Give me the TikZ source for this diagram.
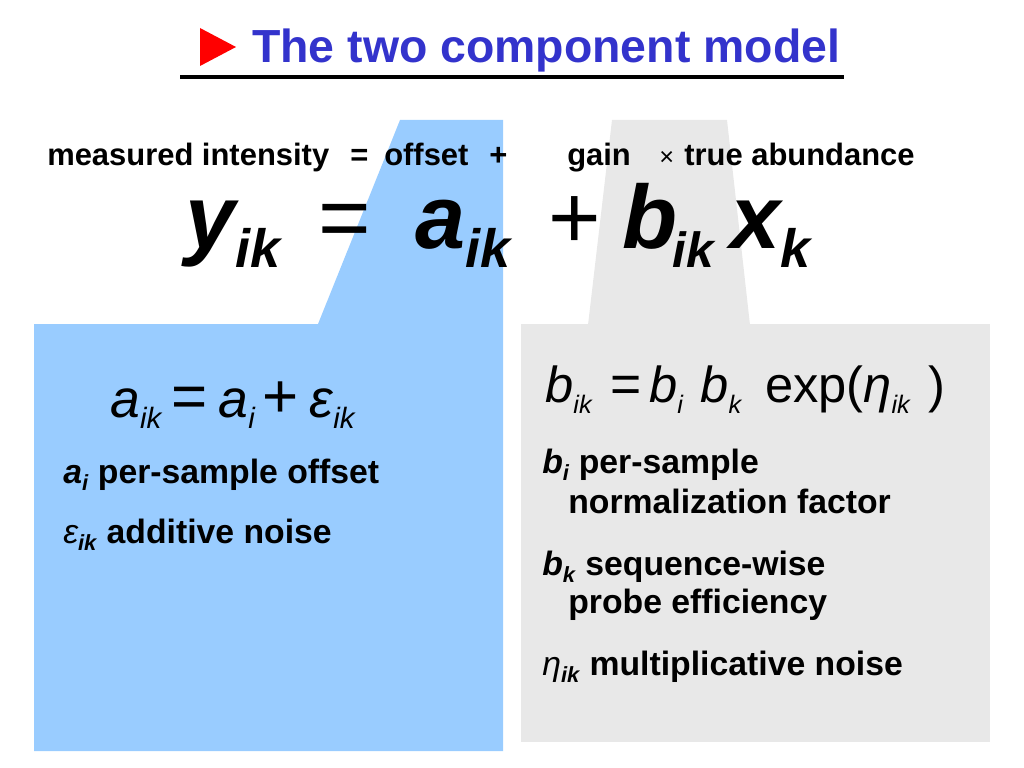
\documentclass[tikz,border=0pt]{standalone}
\usepackage{fontspec}
\setmainfont{Liberation Sans}
\usepackage{graphicx}
\definecolor{skyfill}{RGB}{153,204,255}
\definecolor{greyfill}{RGB}{232,232,232}
\definecolor{titleblue}{RGB}{51,51,204}
\newcommand\dn[2][0.65]{\raisebox{-0.22em}{\scalebox{#1}{#2}}}
\newcommand\op[2]{{\upshape\mdseries\fontsize{#1}{#1}\selectfont #2}}

\begin{document}
\begin{tikzpicture}[x=0.025cm,y=-0.025cm,
  lbl/.style={anchor=base west,inner sep=0pt,font=\fontsize{22}{26}\selectfont\bfseries},
  big/.style={anchor=base west,inner sep=0pt,font=\fontsize{64}{70}\selectfont\bfseries\itshape},
  body/.style={anchor=base west,inner sep=0pt,font=\fontsize{24}{28}\selectfont\bfseries}]
\useasboundingbox (0,0) rectangle (1024,768);

% Background panels
\fill[greyfill] (612,120) -- (727,120) -- (750,325) -- (588,325) -- cycle;
\fill[greyfill] (521,324) rectangle (990,742);
\fill[skyfill] (34,324) -- (318,324) -- (400,120) -- (503,120) -- (503,751) -- (34,751) -- cycle;

% Title
\fill[red] (200,28) -- (236,47) -- (200,66) -- cycle;
\node[anchor=base west,inner sep=0pt,text=titleblue,font=\fontsize{33}{38}\selectfont\bfseries] (title) at (252,63) {The two component model};
\draw[line width=2.8pt] (180,77) -- (844,77);

% Words over the model
\node[lbl] (meas) at (47,165) {measured intensity};
\node[lbl] (eqw) at (350,165) {=};
\node[lbl] (offs) at (384,165) {offset};
\node[lbl] (plw) at (489,165) {+};
\node[lbl] (gain) at (567,165) {gain};
\node[lbl,font=\fontsize{18}{20}\selectfont] (times) at (659,165) {×};
\node[lbl] (abund) at (684,165) {true abundance};

% The model
\node[big] (yik) at (185,248) {y\dn[0.6]{ik}};
\node[big,font=\fontsize{64}{70}\selectfont] (eqbig) at (318,248) {=};
\node[big] (aik) at (415,248) {a\dn[0.6]{ik}};
\node[big,font=\fontsize{64}{70}\selectfont] (plbig) at (548,248) {+};
\node[big] (bik) at (622,248) {b\hspace{-0.05em}\dn[0.55]{ik}};
\node[big] (xk) at (730,248) {x\dn[0.6]{k}};

% Offset panel
\node[anchor=base west,inner sep=0pt,font=\fontsize{38}{42}\selectfont\itshape] (aform) at (110,417)
  {a\dn[0.55]{ik}\hspace{0.2em}\op{44}{=}\hspace{0.2em}a\dn[0.55]{i}\hspace{0.15em}\op{44}{+}\hspace{0.2em}ε\dn[0.55]{ik}};
\node[body] (ai) at (63,483) {\textit{a}\dn{\textit{i}} per-sample offset};
\node[body] (eps) at (63,543) {{\mdseries\itshape ε}\dn{\textit{ik}} additive noise};

% Gain panel
\node[anchor=base west,inner sep=0pt,font=\fontsize{36}{40}\selectfont] (bform) at (545,402)
  {\textit{b}\dn[0.5]{\textit{ik}}\hspace{0.35em}\op{38}{=}\hspace{0.15em}\textit{b}\dn[0.5]{\textit{i}}\hspace{0.33em}\textit{b}\dn[0.5]{\textit{k}}\hspace{0.45em}exp(\textit{η}\dn[0.5]{\textit{ik}}\hspace{0.35em})};
\node[body] (bi) at (542,473) {\textit{b}\dn{\textit{i}} per-sample};
\node[body] (bnorm) at (568,513) {normalization factor};
\node[body] (bk) at (542,575) {\textit{b}\dn{\textit{k}} sequence-wise};
\node[body] (bprobe) at (568,613) {probe efficiency};
\node[body] (eta) at (542,675) {{\mdseries\itshape η}\dn{\textit{ik}} multiplicative noise};
\end{tikzpicture}
\end{document}
